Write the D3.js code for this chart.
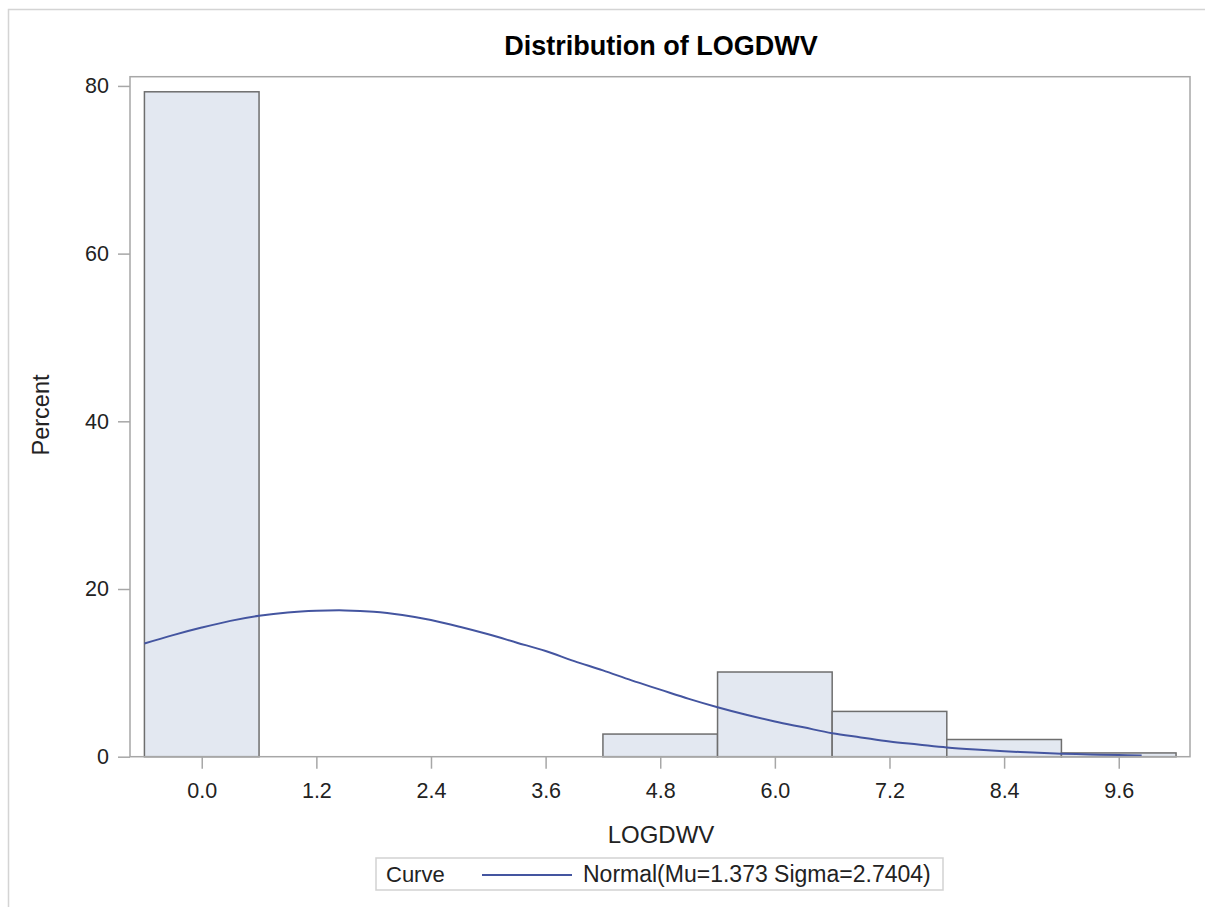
<!DOCTYPE html>
<html>
<head>
<meta charset="utf-8">
<script src="https://cdn.jsdelivr.net/npm/d3@7/dist/d3.min.js"></script>
<style>
  body { margin: 0; background: #fff; }
  svg { display: block; font-family: "Liberation Sans", Arial, sans-serif; }
</style>
</head>
<body>
<div id="chart"></div>
<script>

// histogram bins (midpoint, percent)
var binMidpoints = [0.0, 4.8, 6.0, 7.2, 8.4, 9.6];
var binPercents = [79.3, 2.7, 10.1, 5.4, 2.05, 0.45];
var binWidth = 1.2;

// normal curve
var curveX = [-0.6, -0.3, 0.0, 0.3, 0.6, 0.9, 1.2, 1.5, 1.8, 2.1, 2.4, 2.7, 3.0, 3.3, 3.6, 3.9, 4.2, 4.5, 4.8,
              5.1, 5.4, 5.7, 6.0, 6.3, 6.6, 6.9, 7.2, 7.5, 7.8, 8.1, 8.4, 8.7, 9.0, 9.3, 9.6, 9.84];
var curveY = [13.5, 14.5, 15.4, 16.2, 16.8, 17.2, 17.4, 17.45, 17.3, 16.9, 16.3, 15.5, 14.6, 13.6, 12.6, 11.4, 10.3, 9.1, 8.0,
              6.9, 5.9, 5.0, 4.2, 3.5, 2.8, 2.3, 1.8, 1.45, 1.1, 0.85, 0.65, 0.5, 0.36, 0.27, 0.19, 0.14];

var xTicks = [0.0, 1.2, 2.4, 3.6, 4.8, 6.0, 7.2, 8.4, 9.6];
var yTicks = [0, 20, 40, 60, 80];

var titleText = "Distribution of LOGDWV";
var xLabel = "LOGDWV";
var yLabel = "Percent";
var legendTitle = "Curve";
var legendEntry = "Normal(Mu=1.373 Sigma=2.7404)";

/*
 * Histogram - draws bins, fitted curve, axes and legend
 */
Histogram = function(_parentElement){
	this.parentElement = _parentElement;
	this.initVis();
}

Histogram.prototype.initVis = function(){
	var vis = this;

	vis.width = 1205;
	vis.height = 907;

	// plot frame
	vis.frame = {left: 130, right: 1190, top: 76.7, bottom: 756.7};

	vis.svg = d3.select(vis.parentElement).append("svg")
		.attr("width", vis.width)
		.attr("height", vis.height);

	// outer border (only left and top edges fall inside the window)
	vis.svg.append("rect")
		.attr("x", 8.5).attr("y", 9.5)
		.attr("width", vis.width).attr("height", vis.height)
		.attr("fill", "none")
		.attr("stroke", "#d4d4d4")
		.attr("stroke-width", 1.5);

	vis.x = d3.scaleLinear()
		.domain([-0.751, 10.346])
		.range([vis.frame.left, vis.frame.right]);

	vis.y = d3.scaleLinear()
		.domain([0, 81.1])
		.range([vis.frame.bottom, vis.frame.top]);

	vis.updateVis();
}

Histogram.prototype.updateVis = function(){
	var vis = this;

	var bins = binMidpoints.map(function(m, i){ return {mid: m, pct: binPercents[i]}; });

	vis.svg.selectAll("rect.bar")
		.data(bins)
		.enter()
		.append("rect")
		.attr("class", "bar")
		.attr("x", function(d){ return vis.x(d.mid - binWidth/2); })
		.attr("width", function(d){ return vis.x(d.mid + binWidth/2) - vis.x(d.mid - binWidth/2); })
		.attr("y", function(d){ return vis.y(d.pct); })
		.attr("height", function(d){ return vis.y(0) - vis.y(d.pct); })
		.attr("fill", "#e3e8f1")
		.attr("stroke", "#6e6e6e")
		.attr("stroke-width", 1.5);

	var line = d3.line()
		.x(function(d){ return vis.x(d[0]); })
		.y(function(d){ return vis.y(d[1]); })
		.curve(d3.curveCatmullRom);

	vis.svg.append("path")
		.datum(curveX.map(function(v, i){ return [v, curveY[i]]; }))
		.attr("d", line)
		.attr("fill", "none")
		.attr("stroke", "#4455a0")
		.attr("stroke-width", 2);

	// frame
	vis.svg.append("rect")
		.attr("x", vis.frame.left).attr("y", vis.frame.top)
		.attr("width", vis.frame.right - vis.frame.left)
		.attr("height", vis.frame.bottom - vis.frame.top)
		.attr("fill", "none")
		.attr("stroke", "#a7a7a7")
		.attr("stroke-width", 1.5);

	// axes
	var xAxis = d3.axisBottom(vis.x)
		.tickValues(xTicks)
		.tickFormat(d3.format(".1f"))
		.tickSize(12)
		.tickPadding(14)
		.tickSizeOuter(0);

	var yAxis = d3.axisLeft(vis.y)
		.tickValues(yTicks)
		.tickFormat(d3.format("d"))
		.tickSize(12)
		.tickPadding(9)
		.tickSizeOuter(0);

	var gx = vis.svg.append("g")
		.attr("transform", "translate(0," + vis.frame.bottom + ")")
		.call(xAxis);

	var gy = vis.svg.append("g")
		.attr("transform", "translate(" + vis.frame.left + ",0)")
		.call(yAxis);

	[gx, gy].forEach(function(g){
		g.select(".domain").remove();
		g.selectAll(".tick line").attr("stroke", "#a7a7a7").attr("stroke-width", 1.5);
		g.selectAll(".tick text")
			.attr("fill", "#222")
			.style("font-size", "21.5px")
			.style("font-family", "'Liberation Sans', Arial, sans-serif");
	});

	// title and axis labels
	vis.svg.append("text")
		.attr("x", 661).attr("y", 55)
		.attr("text-anchor", "middle")
		.style("font-size", "27px")
		.style("font-weight", "bold")
		.attr("fill", "#000")
		.text(titleText);

	vis.svg.append("text")
		.attr("x", 661).attr("y", 843)
		.attr("text-anchor", "middle")
		.style("font-size", "24px")
		.attr("fill", "#222")
		.text(xLabel);

	vis.svg.append("text")
		.attr("transform", "translate(49,415) rotate(-90)")
		.attr("text-anchor", "middle")
		.style("font-size", "23.5px")
		.attr("fill", "#222")
		.text(yLabel);

	// legend
	var lg = vis.svg.append("g");
	lg.append("rect")
		.attr("x", 376).attr("y", 858)
		.attr("width", 567).attr("height", 32)
		.attr("fill", "#fff")
		.attr("stroke", "#d2d2d2")
		.attr("stroke-width", 1.5);
	lg.append("text")
		.attr("x", 386).attr("y", 882)
		.style("font-size", "22px")
		.attr("fill", "#222")
		.text(legendTitle);
	lg.append("line")
		.attr("x1", 482).attr("x2", 572)
		.attr("y1", 875).attr("y2", 875)
		.attr("stroke", "#4455a0")
		.attr("stroke-width", 2);
	lg.append("text")
		.attr("x", 583).attr("y", 882)
		.style("font-size", "23px")
		.attr("fill", "#222")
		.text(legendEntry);
}

var hist = new Histogram("#chart");

</script>
</body>
</html>
